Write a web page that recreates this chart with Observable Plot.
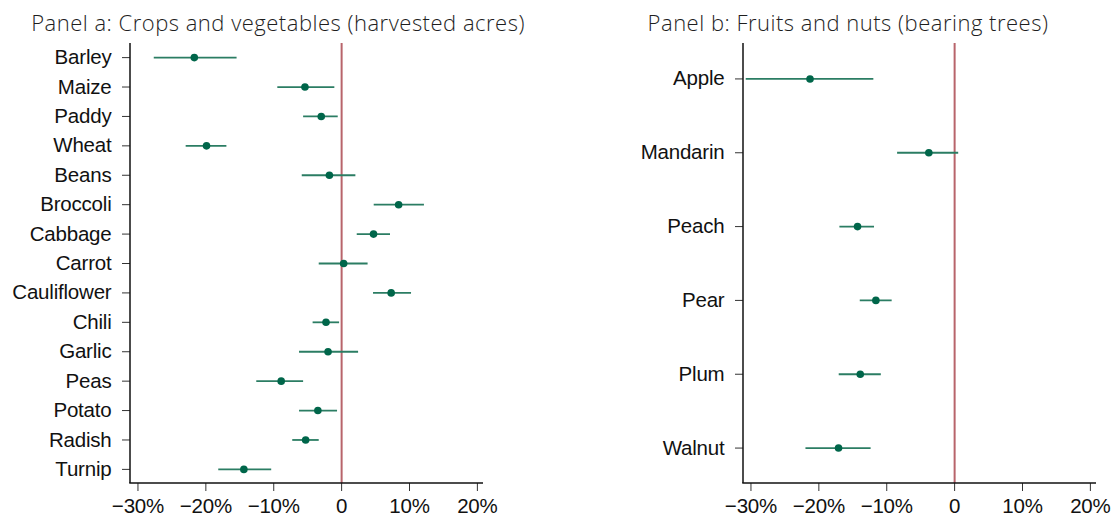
<!DOCTYPE html>
<html>
<head>
<meta charset="utf-8">
<script src="https://cdn.jsdelivr.net/npm/d3@7"></script>
<script src="https://cdn.jsdelivr.net/npm/@observablehq/plot@0.6"></script>
<style>
  html, body { margin: 0; padding: 0; background: #fff; }
  #wrap { position: relative; width: 1112px; height: 516px; overflow: hidden; }
  .panel { position: absolute; top: 0; z-index: 1; }
  .title { position: absolute; z-index: 2; top: 9px; transform: translateX(-50%); white-space: nowrap;
           font-family: "Open Sans", Lato, "Noto Sans", sans-serif; font-weight: 300; font-size: 22px;
           letter-spacing: 0.5px; color: #1e1e1e; line-height: 1.2; }
</style>
</head>
<body>
<div id="wrap">
  <div id="pa" class="panel" style="left:0px"></div>
  <div id="pb" class="panel" style="left:556px"></div>
  <div class="title" style="left:278px">Panel a: Crops and vegetables (harvested acres)</div>
  <div class="title" style="left:848px">Panel b: Fruits and nuts (bearing trees)</div>
</div>
<script>
// Panel a: crops and vegetables (percent change, with confidence interval)
const cropNames = ["Barley","Maize","Paddy","Wheat","Beans","Broccoli","Cabbage","Carrot","Cauliflower","Chili","Garlic","Peas","Potato","Radish","Turnip"];
const cropEst   = [-21.7, -5.4, -3.0, -19.9, -1.8, 8.4, 4.7, 0.3, 7.3, -2.3, -2.0, -8.9, -3.5, -5.3, -14.4];
const cropLo    = [-27.6, -9.4, -5.6, -22.9, -5.8, 4.8, 2.3, -3.3, 4.7, -4.2, -6.2, -12.5, -6.2, -7.2, -18.1];
const cropHi    = [-15.4, -1.0, -0.5, -16.9, 2.1, 12.2, 7.2, 3.9, 10.3, -0.3, 2.5, -5.6, -0.6, -3.3, -10.3];

// Panel b: fruits and nuts
const fruitNames = ["Apple","Mandarin","Peach","Pear","Plum","Walnut"];
const fruitEst   = [-21.3, -3.8, -14.3, -11.6, -13.9, -17.1];
const fruitLo    = [-30.7, -8.4, -16.9, -13.9, -17.0, -21.9];
const fruitHi    = [-11.9, 0.6, -11.8, -9.2, -10.8, -12.3];

const xTicks = [-30, -20, -10, 0, 10, 20];
const xDomain = [-31.1, 20.9];

const dotColor = "#00664a";
const ciColor = "#2b7d63";
const zeroColor = "#b8646b";

function fmt(d) {
  if (d === 0) return "0";
  return (d < 0 ? "\u2212" + Math.abs(d) : String(d)) + "%";
}

function axisLines() {
  return (index, scales, values, dims) => {
    const {width, height, marginLeft, marginRight, marginTop, marginBottom} = dims;
    const g = d3.create("svg:g").attr("stroke", "#111").attr("stroke-width", 1.5);
    g.append("line").attr("x1", marginLeft).attr("x2", marginLeft)
      .attr("y1", marginTop).attr("y2", height - marginBottom);
    g.append("line").attr("x1", marginLeft - 0.75).attr("x2", width - marginRight)
      .attr("y1", height - marginBottom).attr("y2", height - marginBottom);
    return g.node();
  };
}

function makePanel(names, est, lo, hi, opts) {
  const data = names.map((n, i) => ({name: n, est: est[i], lo: lo[i], hi: hi[i]}));
  return Plot.plot({
    width: 556,
    height: 516,
    marginLeft: opts.marginLeft,
    marginRight: opts.marginRight,
    marginTop: 43,
    marginBottom: 33,
    style: {fontFamily: "'Liberation Sans', Arial, Helvetica, sans-serif", fontSize: "20.5px", color: "#111", background: "transparent", letterSpacing: "-0.2px"},
    x: {domain: xDomain, ticks: xTicks, tickFormat: fmt, label: null},
    y: {type: "point", domain: names, padding: 0.48, round: false, label: null},
    marks: [
      Plot.axisY({tickSize: 8, tickPadding: 11, label: null, stroke: "#333", fontSize: "20.5px"}),
      Plot.axisX({ticks: xTicks, tickFormat: fmt, tickSize: 8, tickPadding: 7, label: null, stroke: "#333", fontSize: "20.5px"}),
      Plot.ruleX([0], {stroke: zeroColor, strokeWidth: 2}),
      Plot.ruleY(data, {y: "name", x1: "lo", x2: "hi", stroke: ciColor, strokeWidth: 1.8}),
      Plot.dot(data, {x: "est", y: "name", r: 3.8, fill: dotColor, stroke: "none"}),
      axisLines()
    ]
  });
}

document.getElementById("pa").append(makePanel(cropNames, cropEst, cropLo, cropHi, {marginLeft: 130, marginRight: 73}));
document.getElementById("pb").append(makePanel(fruitNames, fruitEst, fruitLo, fruitHi, {marginLeft: 187, marginRight: 16}));
</script>
</body>
</html>
